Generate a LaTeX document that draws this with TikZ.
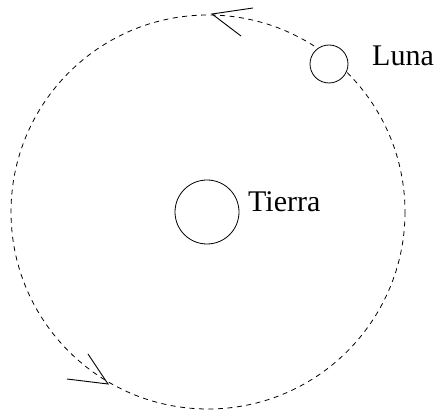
\documentclass[tikz,border=0pt]{standalone}
\usepackage{fontspec}
\setmainfont{Liberation Serif}
\begin{document}
\begin{tikzpicture}[x=1pt,y=-1pt,
  body/.style={draw=black,fill=white,circle,inner sep=0pt,line width=0.8pt},
  orbit/.style={draw=black,line width=0.8pt,dash pattern=on 5pt off 4.5pt},
  barb/.style={draw=black,line width=0.9pt},
  lbl/.style={font=\fontsize{30}{36}\selectfont,inner sep=0pt,anchor=base west}]
\useasboundingbox (0,0) rectangle (437,414);
\coordinate (O) at (208,212);
\draw[orbit] (O) circle[radius=197];
\node[body,minimum size=64pt] (tierra) at (207,212) {};
\node[body,minimum size=38pt] (luna) at (329,64) {};
\node[lbl] (tl) at (248,212) {Tierra};
\node[lbl] (ll) at (372,66) {Luna};
\coordinate (t1) at (212,14);
\coordinate (t1a) at (253,8);
\coordinate (t1b) at (241,36);
\draw[barb] (t1a) -- (t1) -- (t1b);
\coordinate (t2) at (108,384);
\coordinate (t2a) at (67,379);
\coordinate (t2b) at (88,354);
\draw[barb] (t2a) -- (t2) -- (t2b);
\end{tikzpicture}
\end{document}
